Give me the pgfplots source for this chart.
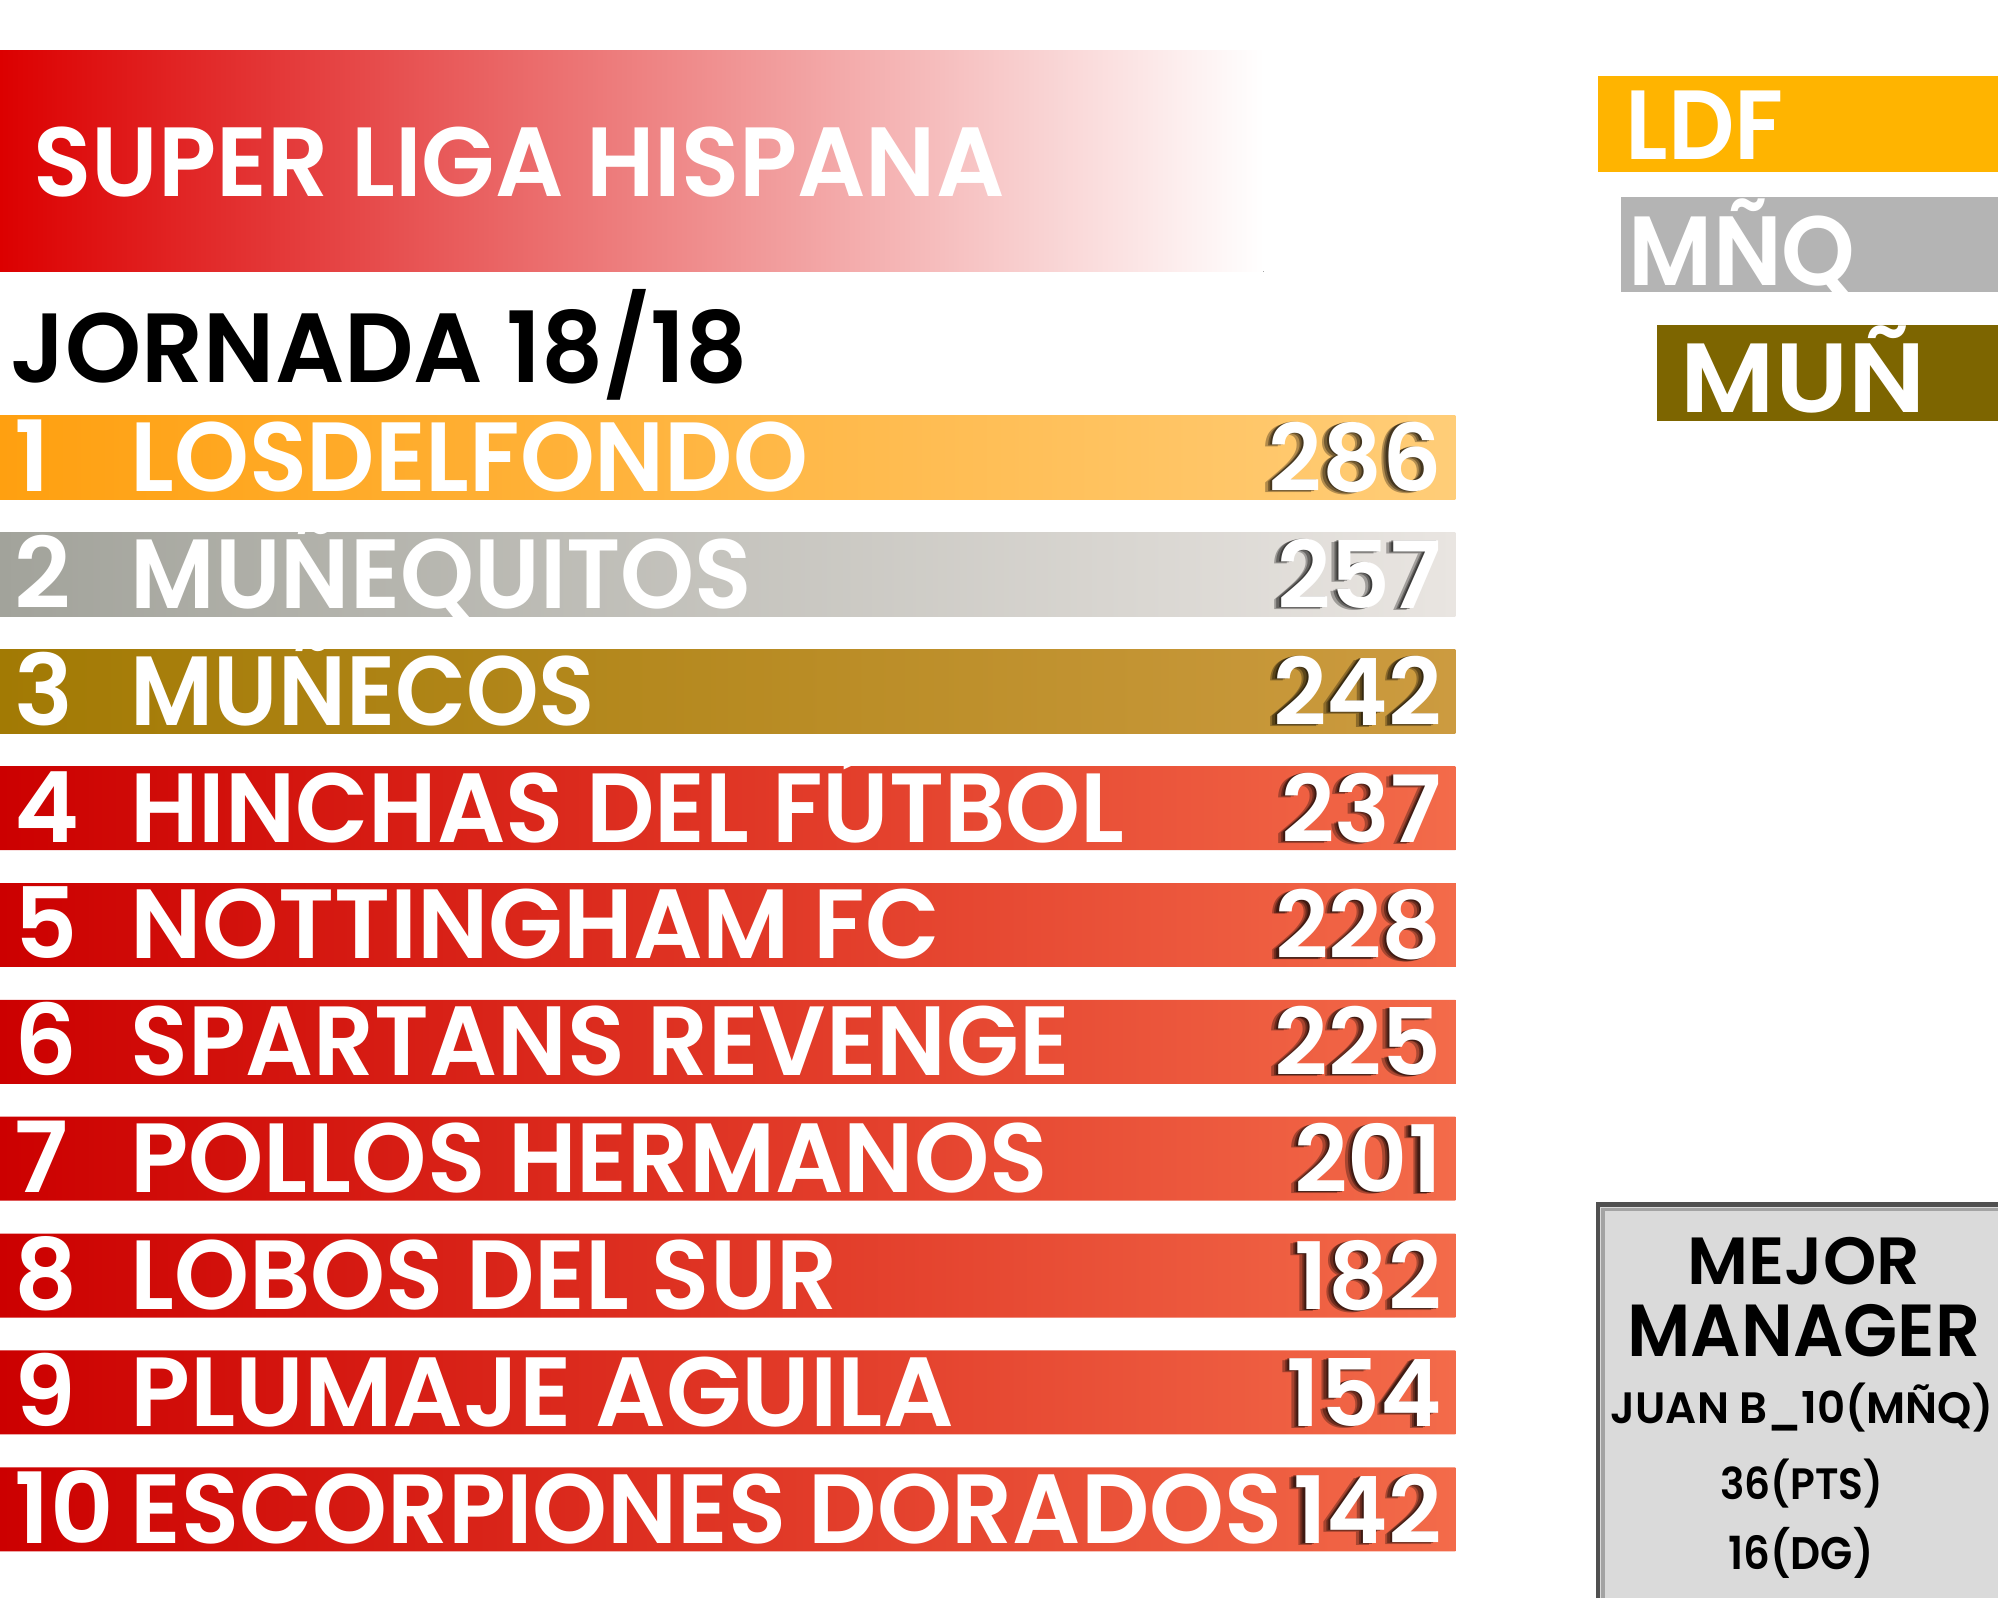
\documentclass[border=0pt]{standalone}
\usepackage{pgfplots}
\pgfplotsset{compat=1.18}
\usepackage{pgfplotstable}
\usepackage{graphicx}
\usepackage{fontspec}
\setmainfont{Poppins}[BoldFont={Poppins SemiBold}]

\definecolor{titlered}{HTML}{DC0000}
\definecolor{bAl}{HTML}{FFA010}
\definecolor{bAr}{HTML}{FFCD78}
\definecolor{bBl}{HTML}{A2A39B}
\definecolor{bBr}{HTML}{E9E5E1}
\definecolor{bCl}{HTML}{A27A04}
\definecolor{bCr}{HTML}{CC9B40}
\definecolor{redl}{HTML}{CC0000}
\definecolor{redr}{HTML}{F36B4A}
\definecolor{ldf}{HTML}{FFB400}
\definecolor{mnq}{HTML}{B4B4B4}
\definecolor{mun}{HTML}{7D6500}
\definecolor{boxgray}{HTML}{DADADA}
\definecolor{boxline}{HTML}{505050}

\newcommand\fitw[2]{\resizebox{#1}{\height}{#2}}
\newcommand\bigf{\bfseries\fontsize{28}{30}\selectfont}
\newcommand\numf{\bfseries\fontsize{26.5}{28}\selectfont}

\pgfplotstableread{
rank name w pts
1 LOSDELFONDO 67.8 286
2 MUÑEQUITOS 62.2 257
3 MUÑECOS 46.5 242
4 {HINCHAS DEL FÚTBOL} 99.5 237
5 {NOTTINGHAM FC} 81.0 228
6 {SPARTANS REVENGE} 94.0 225
7 {POLLOS HERMANOS} 91.8 201
8 {LOBOS DEL SUR} 70.8 182
9 {PLUMAJE AGUILA} 82.4 154
10 {ESCORPIONES DORADOS} 115.3 142
}\ranking

\begin{document}
\begin{tikzpicture}
\begin{axis}[
  width=200mm, height=160mm, scale only axis,
  xmin=0, xmax=2000, ymin=0, ymax=1600,
  y dir=reverse, hide axis, clip=false,
]
% full canvas (keeps the picture 2000 x 1600 units)
\path (axis cs:0,0) rectangle (axis cs:2000,1600);
% ---- title band
\fill[left color=titlered, right color=white] (axis cs:0,51) rectangle (axis cs:1265,272);
\node[anchor=base west, inner sep=0pt, text=white, font=\bigf] at (axis cs:33,197) {\fitw{97.2mm}{SUPER LIGA HISPANA}};
\node[anchor=base west, inner sep=0pt, text=black, font=\bigf] at (axis cs:10,383) {\fitw{73.8mm}{JORNADA 18/18}};

% ---- bars (all the same length)
\addplot[xbar, bar shift=0pt, bar width=84, draw=none, left color=bAl, right color=bAr,
  restrict expr to domain={\thisrow{rank}}{1:1}]
  table[x expr=1457, y expr=458+117*(\thisrow{rank}-1)] {\ranking};
\addplot[xbar, bar shift=0pt, bar width=84, draw=none, left color=bBl, right color=bBr,
  restrict expr to domain={\thisrow{rank}}{2:2}]
  table[x expr=1457, y expr=458+117*(\thisrow{rank}-1)] {\ranking};
\addplot[xbar, bar shift=0pt, bar width=84, draw=none, left color=bCl, right color=bCr,
  restrict expr to domain={\thisrow{rank}}{3:3}]
  table[x expr=1457, y expr=458+117*(\thisrow{rank}-1)] {\ranking};
\addplot[xbar, bar shift=0pt, bar width=84, draw=none, left color=redl, right color=redr,
  restrict expr to domain={\thisrow{rank}}{4:10}]
  table[x expr=1457, y expr=458+117*(\thisrow{rank}-1)] {\ranking};

% ---- rank numbers
\addplot[draw=none, mark=none, nodes near coords, point meta=explicit symbolic,
  every node near coord/.append style={anchor=base west, inner sep=0pt, text=white, font=\bigf}]
  table[x expr=14, y expr=492+117*(\thisrow{rank}-1), meta=rank] {\ranking};

% ---- team names
\addplot[draw=none, mark=none, point meta=explicit symbolic,
  visualization depends on={\thisrow{w} \as \wname},
  nodes near coords={\fitw{\wname mm}{\pgfplotspointmeta}},
  every node near coord/.append style={anchor=base west, inner sep=0pt, text=white, font=\bigf}]
  table[x expr=130, y expr=492+117*(\thisrow{rank}-1), meta=name] {\ranking};

% ---- points (soft shadow, then white)
\addplot[draw=none, mark=none, nodes near coords, point meta=explicit symbolic,
  every node near coord/.append style={anchor=base east, inner sep=0pt, text=black, opacity=0.3,
    xshift=-0.7mm, yshift=-0.2mm, font=\numf}]
  table[x expr=1444, y expr=492+117*(\thisrow{rank}-1), meta=pts] {\ranking};
\addplot[draw=none, mark=none, nodes near coords, point meta=explicit symbolic,
  every node near coord/.append style={anchor=base east, inner sep=0pt, text=black, opacity=0.35,
    xshift=-0.45mm, yshift=-0.12mm, font=\numf}]
  table[x expr=1444, y expr=492+117*(\thisrow{rank}-1), meta=pts] {\ranking};
\addplot[draw=none, mark=none, nodes near coords, point meta=explicit symbolic,
  every node near coord/.append style={anchor=base east, inner sep=0pt, text=black, opacity=0.4,
    xshift=-0.22mm, yshift=-0.05mm, font=\numf}]
  table[x expr=1444, y expr=492+117*(\thisrow{rank}-1), meta=pts] {\ranking};
\addplot[draw=none, mark=none, nodes near coords, point meta=explicit symbolic,
  every node near coord/.append style={anchor=base east, inner sep=0pt, text=white, font=\numf}]
  table[x expr=1444, y expr=492+117*(\thisrow{rank}-1), meta=pts] {\ranking};

% ---- abbreviations on the right
\fill[ldf] (axis cs:1600,76) rectangle (axis cs:2000,172);
\node[anchor=base west, inner sep=0pt, text=white, font=\bigf] at (axis cs:1627,160) {\fitw{15.8mm}{LDF}};
\fill[mnq] (axis cs:1623,197) rectangle (axis cs:2000,292);
\node[anchor=base west, inner sep=0pt, text=white, font=\bigf] at (axis cs:1630,286) {\fitw{22.7mm}{MÑQ}};
\fill[mun] (axis cs:1659,325) rectangle (axis cs:2000,421);
\node[anchor=base west, inner sep=0pt, text=white, font=\bigf] at (axis cs:1682,413) {\fitw{24.5mm}{MUÑ}};

% ---- best manager box
\fill[boxgray] (axis cs:1598,1203) rectangle (axis cs:2000,1600);
\draw[boxline, line width=0.45mm] (axis cs:1600,1600) -- (axis cs:1600,1206) -- (axis cs:2000,1206);
\draw[black, opacity=0.25, line width=0.35mm] (axis cs:1605,1600) -- (axis cs:1605,1211) -- (axis cs:2000,1211);
\node[anchor=base, inner sep=0pt, text=black, font=\bfseries\fontsize{19}{20}\selectfont] at (axis cs:1806,1286) {\fitw{23.3mm}{MEJOR}};
\node[anchor=base, inner sep=0pt, text=black, font=\bfseries\fontsize{21}{22}\selectfont] at (axis cs:1806,1358) {\fitw{35.3mm}{MANAGER}};
\node[anchor=base, inner sep=0pt, text=black, font=\bfseries\fontsize{12.5}{14}\selectfont] at (axis cs:1804,1425) {\fitw{38.3mm}{JUAN B\_10(MÑQ)}};
\node[anchor=base, inner sep=0pt, text=black, font=\bfseries\fontsize{12.5}{14}\selectfont] at (axis cs:1804,1501) {\fitw{16.3mm}{36(PTS)}};
\node[anchor=base, inner sep=0pt, text=black, font=\bfseries\fontsize{13}{14}\selectfont] at (axis cs:1803,1571) {\fitw{14.5mm}{16(DG)}};
\end{axis}
\end{tikzpicture}
\end{document}
